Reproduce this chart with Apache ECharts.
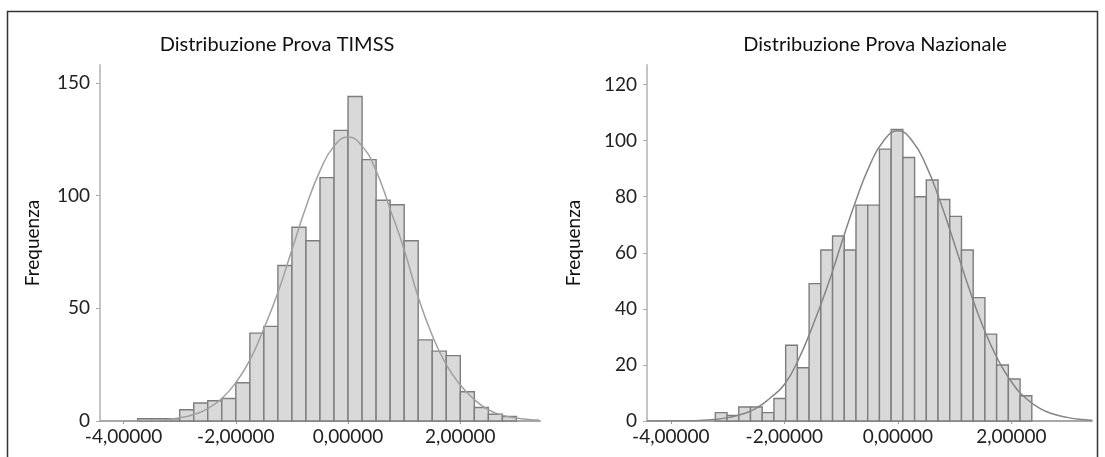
<!DOCTYPE html>
<html>
<head>
<meta charset="utf-8">
<script src="https://cdn.jsdelivr.net/npm/echarts@6/dist/echarts.min.js"></script>
<style>
html,body{margin:0;padding:0;background:#fff;}
#c{width:1105px;height:457px;}
</style>
</head>
<body>
<div id="c"></div>
<script>
// ---- Data ----
const titles = ["Distribuzione Prova TIMSS", "Distribuzione Prova Nazionale"];
const yName = "Frequenza";
const xTicks = [-4, -2, 0, 2];
const timssYTicks = [0, 50, 100, 150];
const nazYTicks = [0, 20, 40, 60, 80, 100, 120];

// TIMSS histogram: bins of width 0.25 starting at -3.75
const timssBinStart = -3.75;
const timssBinWidth = 0.25;
const timssCounts = [1, 1, 1, 5, 8, 9, 10, 17, 39, 42, 69, 86, 80, 108, 129, 144, 116, 98, 96, 80, 36, 31, 29, 13, 6, 3, 2];
// TIMSS fitted curve (x, frequency)
const timssCurveX = [-4, -3.75, -3.5, -3.25, -3, -2.75, -2.5, -2.25, -2, -1.75, -1.5, -1.25, -1, -0.75, -0.5, -0.25, 0, 0.25, 0.5, 0.75, 1, 1.25, 1.5, 1.75, 2, 2.25, 2.5, 2.75, 3, 3.25, 3.4];
const timssCurveY = [0, 0.1, 0.3, 0.6, 1.4, 2.9, 5.5, 10, 17, 27, 41, 57, 76, 95, 111, 122, 126, 122, 111, 94, 76, 55, 38, 25, 16, 9.5, 5, 2.6, 1.3, 0.6, 0.4];

// Prova Nazionale histogram
const nazBinStart = -3.216;
const nazBinWidth = 0.2065;
const nazCounts = [3, 2, 5, 5, 3, 8, 27, 19, 49, 61, 66, 61, 77, 77, 97, 104, 94, 80, 86, 79, 73, 61, 44, 31, 20, 15, 9];
const nazCurveX = [-4.42, -4, -3.75, -3.5, -3.25, -3, -2.75, -2.5, -2.25, -2, -1.75, -1.5, -1.25, -1, -0.75, -0.5, -0.25, 0, 0.25, 0.5, 0.75, 1, 1.25, 1.5, 1.75, 2, 2.25, 2.5, 2.75, 3, 3.25, 3.42];
const nazCurveY = [0, 0.05, 0.1, 0.2, 0.5, 1.2, 2.4, 4.5, 8.2, 13, 22, 34, 47.5, 63, 78, 91, 100, 103.5, 100, 91, 78, 63, 47.5, 33.6, 22.4, 14, 8.2, 4.5, 2.4, 1.2, 0.5, 0.3];

// ---- Build chart ----
function bins(start, width, counts) {
  return counts.map((c, i) => [start + i * width, start + (i + 1) * width, c]);
}
function pairs(xs, ys) { return xs.map((x, i) => [x, ys[i]]); }

const FONT = "Lato";
const fmtX = v => Number(v).toFixed(5).replace('.', ',');

function renderBar(params, api) {
  const a = api.coord([api.value(0), api.value(2)]);
  const b = api.coord([api.value(1), 0]);
  return {
    type: 'rect',
    shape: { x: a[0], y: a[1], width: b[0] - a[0], height: b[1] - a[1] },
    style: { fill: '#d9d9d9', stroke: '#7d7d7d', lineWidth: 1.4 }
  };
}

function xAxis(idx) {
  return {
    gridIndex: idx, type: 'value', min: -4.42, max: 3.42,
    axisLine: { show: true, onZero: false, lineStyle: { color: '#a8a8a8', width: 2 } },
    axisTick: { show: true, customValues: xTicks, length: 3, lineStyle: { color: '#999' } },
    axisLabel: { customValues: xTicks, formatter: fmtX, fontFamily: FONT, fontSize: 19, color: '#222', margin: 6 },
    splitLine: { show: false }
  };
}
function yAxis(idx, max, ticks, gap) {
  return {
    gridIndex: idx, type: 'value', min: 0, max: max,
    name: yName, nameLocation: 'middle', nameGap: gap, nameRotate: 90,
    nameTextStyle: { fontFamily: FONT, fontSize: 19, color: '#111' },
    axisLine: { show: true, onZero: false, lineStyle: { color: '#c4c4c4', width: 2 } },
    axisTick: { show: true, customValues: ticks, length: 4, lineStyle: { color: '#aaa' } },
    axisLabel: { customValues: ticks, fontFamily: FONT, fontSize: 19, color: '#222', margin: 10 },
    splitLine: { show: false }
  };
}

const chart = echarts.init(document.getElementById('c'), null, { renderer: 'canvas' });
chart.setOption({
  animation: false,
  backgroundColor: '#fff',
  graphic: [{
    type: 'rect', shape: { x: 7.5, y: 11.5, width: 1090, height: 470 },
    style: { fill: 'none', stroke: '#333', lineWidth: 1.5 }, silent: true
  }],
  title: [
    { text: titles[0], left: 272, top: 30, textAlign: 'center',
      textStyle: { fontFamily: FONT, fontSize: 20, fontWeight: 'normal', color: '#111' } },
    { text: titles[1], left: 870, top: 30, textAlign: 'center',
      textStyle: { fontFamily: FONT, fontSize: 20, fontWeight: 'normal', color: '#111' } }
  ],
  grid: [
    { left: 100, right: 565, top: 65, bottom: 36 },
    { left: 647, right: 13, top: 65, bottom: 36 }
  ],
  xAxis: [xAxis(0), xAxis(1)],
  yAxis: [yAxis(0, 158, timssYTicks, 58), yAxis(1, 127, nazYTicks, 64)],
  series: [
    { type: 'custom', xAxisIndex: 0, yAxisIndex: 0, renderItem: renderBar,
      encode: { x: [0, 1], y: 2 }, data: bins(timssBinStart, timssBinWidth, timssCounts), z: 2 },
    { type: 'line', xAxisIndex: 0, yAxisIndex: 0, data: pairs(timssCurveX, timssCurveY),
      smooth: true, symbol: 'none', lineStyle: { color: '#a0a0a0', width: 1.5 }, z: 3 },
    { type: 'custom', xAxisIndex: 1, yAxisIndex: 1, renderItem: renderBar,
      encode: { x: [0, 1], y: 2 }, data: bins(nazBinStart, nazBinWidth, nazCounts), z: 2 },
    { type: 'line', xAxisIndex: 1, yAxisIndex: 1, data: pairs(nazCurveX, nazCurveY),
      smooth: true, symbol: 'none', lineStyle: { color: '#858585', width: 1.5 }, z: 3 }
  ]
});
</script>
</body>
</html>
